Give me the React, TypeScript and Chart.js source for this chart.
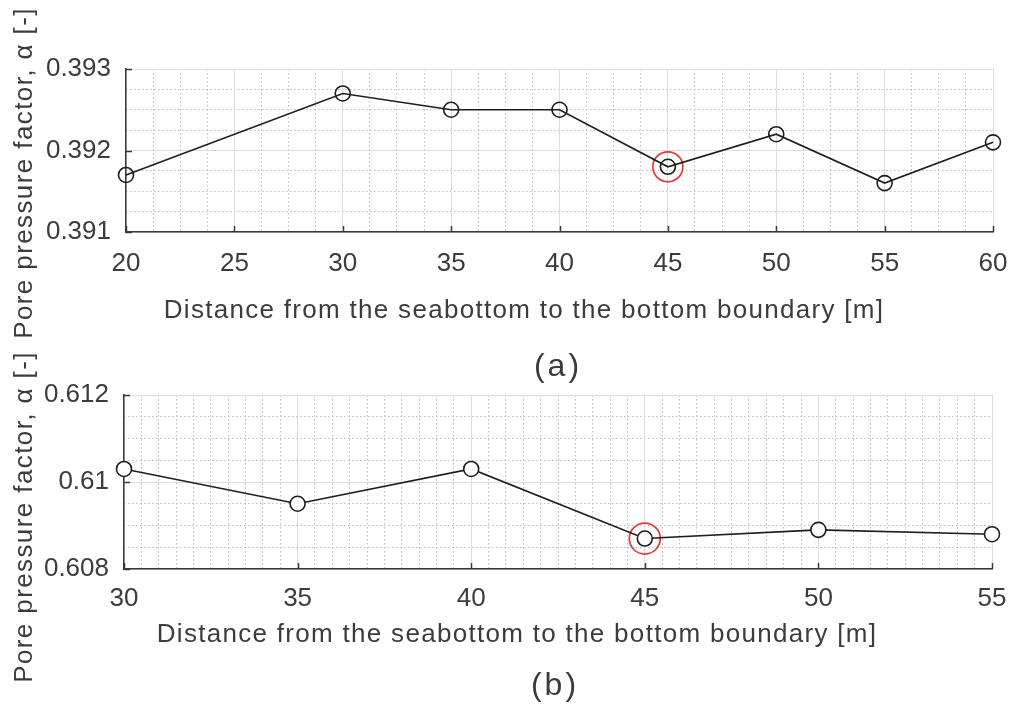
import React, { useEffect, useRef } from 'react';
import { Chart, registerables } from 'chart.js';

Chart.register(...registerables);

// ---- data ----
const DEPTH_A = [20, 30, 35, 40, 45, 50, 55, 60];
const ALPHA_A = [0.3917, 0.3927, 0.3925, 0.3925, 0.3918, 0.3922, 0.3916, 0.3921];
const DEPTH_B = [30, 35, 40, 45, 50, 55];
const ALPHA_B = [0.6103, 0.6095, 0.6103, 0.6087, 0.6089, 0.6088];
const HIGHLIGHT_DEPTH = 45;

const X_RANGE_A = [20, 60];
const Y_RANGE_A = [0.391, 0.393];
const X_RANGE_B = [30, 55];
const Y_RANGE_B = [0.608, 0.612];
const X_STEPS_A = [5, 1.25]; // major, minor
const Y_STEPS_A = [0.001, 0.00025];
const X_STEPS_B = [5, 0.5];
const Y_STEPS_B = [0.002, 0.0005];

const X_TITLE = 'Distance from the seabottom to the bottom boundary [m]';
const Y_TITLE = 'Pore pressure factor, \u03B1 [-]';
const PANEL_LABELS = ['(a)', '(b)'];

// ---- styles ----
const FONT = '"Liberation Sans", Arial, sans-serif';
const TEXT_COLOR = '#3c3c3c';
const AXIS_COLOR = '#383838';
const MAJOR_GRID = '#dddddd';
const MINOR_GRID = '#bdbdbd';
const LINE_COLOR = '#1e1e1e';
const RED = '#e53a35';
const X_AXIS_BOX = 60;

const isMultiple = (v: number, step: number) => {
  const r = v / step;
  return Math.abs(r - Math.round(r)) < 1e-6;
};
const fmt = (v: number) => String(Number(Number(v).toFixed(4)));

const overlayPlugin = {
  id: 'overlay',
  afterDraw(chart: any, _args: any, opts: any) {
    const { ctx, chartArea, scales } = chart;
    const xs = scales.x;
    const ys = scales.y;
    ctx.save();
    // inward tick marks (MATLAB style)
    ctx.strokeStyle = AXIS_COLOR;
    ctx.lineWidth = 1.5;
    const tl = 6;
    xs.ticks.forEach((t: any) => {
      const px = Math.round(xs.getPixelForValue(t.value)) + 0.5;
      ctx.beginPath();
      ctx.moveTo(px, chartArea.bottom);
      ctx.lineTo(px, chartArea.bottom - tl);
      ctx.stroke();
    });
    ys.ticks.forEach((t: any) => {
      const py = Math.round(ys.getPixelForValue(t.value)) + 0.5;
      ctx.beginPath();
      ctx.moveTo(chartArea.left, py);
      ctx.lineTo(chartArea.left + tl, py);
      ctx.stroke();
    });
    // titles
    ctx.fillStyle = TEXT_COLOR;
    ctx.textBaseline = 'alphabetic';
    ctx.textAlign = 'center';
    ctx.font = `26px ${FONT}`;
    (ctx as any).letterSpacing = '1.3px';
    ctx.fillText(opts.xTitle, opts.xTitlePos[0], opts.xTitlePos[1]);
    (ctx as any).letterSpacing = '1.4px';
    ctx.save();
    ctx.translate(opts.yTitlePos[0], opts.yTitlePos[1]);
    ctx.rotate(-Math.PI / 2);
    ctx.fillText(opts.yTitle, 0, 0);
    ctx.restore();
    ctx.font = `32px ${FONT}`;
    (ctx as any).letterSpacing = '3px';
    ctx.fillText(opts.panel, opts.panelPos[0], opts.panelPos[1]);
    ctx.restore();
  },
};

function makeConfig(p: any) {
  const hiIdx = p.depth.indexOf(HIGHLIGHT_DEPTH);
  const points = p.depth.map((d: number, i: number) => ({ x: d, y: p.alpha[i] }));
  const tickFont = { family: FONT, size: 26 };
  return {
    type: 'line',
    data: {
      datasets: [
        {
          data: points,
          xAxisID: 'x',
          yAxisID: 'y',
          borderColor: LINE_COLOR,
          borderWidth: 1.6,
          tension: 0,
          pointRadius: 7.5,
          pointBorderWidth: 1.6,
          pointBorderColor: LINE_COLOR,
          pointBackgroundColor: p.pointFill,
          clip: false,
        },
        {
          data: [{ x: p.depth[hiIdx], y: p.alpha[hiIdx] }],
          xAxisID: 'x',
          yAxisID: 'y',
          showLine: false,
          pointRadius: p.redRadius,
          pointBorderWidth: 1.7,
          pointBorderColor: RED,
          pointBackgroundColor: 'rgba(0,0,0,0)',
          clip: false,
        },
      ],
    },
    options: {
      responsive: false,
      animation: false,
      events: [],
      layout: { padding: p.padding },
      plugins: {
        legend: { display: false },
        tooltip: { enabled: false },
        title: { display: false },
        overlay: {
          xTitle: X_TITLE,
          yTitle: Y_TITLE,
          panel: p.panel,
          xTitlePos: p.xTitlePos,
          yTitlePos: p.yTitlePos,
          panelPos: p.panelPos,
        },
      },
      scales: {
        xMinor: {
          type: 'linear',
          position: 'bottom',
          min: p.xRange[0],
          max: p.xRange[1],
          ticks: { display: false, stepSize: p.xSteps[1] },
          grid: {
            drawTicks: false,
            z: -2,
            lineWidth: 1,
            color: (c: any) => (c.tick && isMultiple(c.tick.value, p.xSteps[0]) ? 'rgba(0,0,0,0)' : MINOR_GRID),
          },
          border: { display: false, dash: [1.5, 2.5] },
          afterFit: (s: any) => { s.height = 0; s.paddingLeft = 0; s.paddingRight = 0; },
        },
        yMinor: {
          type: 'linear',
          position: 'left',
          min: p.yRange[0],
          max: p.yRange[1],
          ticks: { display: false, stepSize: p.ySteps[1] },
          grid: {
            drawTicks: false,
            z: -2,
            lineWidth: 1,
            color: (c: any) => (c.tick && isMultiple(c.tick.value - p.yRange[0], p.ySteps[0]) ? 'rgba(0,0,0,0)' : MINOR_GRID),
          },
          border: { display: false, dash: [1.5, 2.5] },
          afterFit: (s: any) => { s.width = 0; s.paddingTop = 0; s.paddingBottom = 0; },
        },
        x: {
          type: 'linear',
          position: 'bottom',
          min: p.xRange[0],
          max: p.xRange[1],
          ticks: {
            stepSize: p.xSteps[0],
            autoSkip: false,
            maxRotation: 0,
            padding: p.xTickPad,
            font: tickFont,
            color: TEXT_COLOR,
            callback: (v: any) => fmt(v),
          },
          grid: { drawTicks: false, color: MAJOR_GRID, lineWidth: 1 },
          border: { display: true, color: AXIS_COLOR, width: 1.5 },
          afterFit: (s: any) => { s.height = X_AXIS_BOX; s.paddingLeft = 0; s.paddingRight = 0; },
        },
        y: {
          type: 'linear',
          position: 'left',
          min: p.yRange[0],
          max: p.yRange[1],
          ticks: {
            stepSize: p.ySteps[0],
            autoSkip: false,
            padding: p.yTickPad,
            font: tickFont,
            color: TEXT_COLOR,
            callback: (v: any) => fmt(v),
          },
          grid: { drawTicks: false, color: MAJOR_GRID, lineWidth: 1 },
          border: { display: true, color: AXIS_COLOR, width: 1.5 },
          afterFit: (s: any) => { s.width = p.yWidth; s.paddingTop = 0; s.paddingBottom = 0; },
        },
      },
    },
    plugins: [overlayPlugin],
  };
}

const PANEL_A = {
  depth: DEPTH_A,
  alpha: ALPHA_A,
  xRange: X_RANGE_A,
  yRange: Y_RANGE_A,
  xSteps: X_STEPS_A,
  ySteps: Y_STEPS_A,
  panel: PANEL_LABELS[0],
  padding: { left: 0, top: 69, right: 19, bottom: 479 - X_AXIS_BOX },
  yWidth: 126,
  xTickPad: 16.5,
  yTickPad: 15,
  xTitlePos: [524, 318],
  yTitlePos: [32, 173],
  panelPos: [558, 376],
  redRadius: 15,
  pointFill: 'rgba(0,0,0,0)',
};

const PANEL_B = {
  depth: DEPTH_B,
  alpha: ALPHA_B,
  xRange: X_RANGE_B,
  yRange: Y_RANGE_B,
  xSteps: X_STEPS_B,
  ySteps: Y_STEPS_B,
  panel: PANEL_LABELS[1],
  padding: { left: 0, top: 395, right: 20, bottom: 142 - X_AXIS_BOX },
  yWidth: 124,
  xTickPad: 14,
  yTickPad: 15,
  xTitlePos: [517, 642],
  yTitlePos: [32, 517],
  panelPos: [555, 695],
  redRadius: 15.5,
  pointFill: '#ffffff',
};

function Panel({ spec }: { spec: any }) {
  const ref = useRef<HTMLCanvasElement | null>(null);
  useEffect(() => {
    if (!ref.current) return;
    const chart = new Chart(ref.current, makeConfig(spec) as any);
    return () => chart.destroy();
  }, [spec]);
  return (
    <canvas
      ref={ref}
      width={1012}
      height={711}
      style={{ position: 'absolute', left: 0, top: 0, width: 1012, height: 711 }}
    />
  );
}

export default function App() {
  return (
    <div style={{ position: 'absolute', left: 0, top: 0, width: 1012, height: 711, background: '#ffffff', overflow: 'hidden' }}>
      <Panel spec={PANEL_A} />
      <Panel spec={PANEL_B} />
    </div>
  );
}
